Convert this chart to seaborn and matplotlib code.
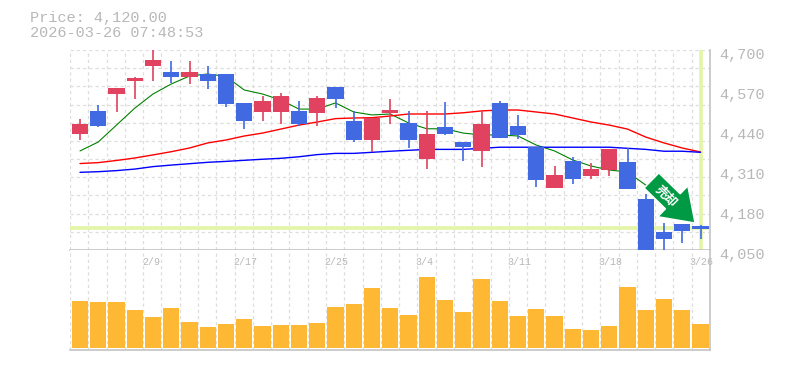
import matplotlib
matplotlib.use("Agg")
import matplotlib.pyplot as plt
import matplotlib.patches as mpatches
import matplotlib.transforms as mtrans
import numpy as np
import pandas as pd
import seaborn as sns

sns.set_theme(style="white")
plt.rcParams['font.family'] = ['Liberation Mono', 'Noto Sans CJK JP', 'DejaVu Sans']

# ---- data ----
opens = [4427, 4502, 4557, 4599, 4648, 4628.5, 4612, 4622, 4622, 4528, 4498.5, 4498.5, 4502, 4495, 4580, 4469, 4407.5,
         4495, 4463, 4346, 4450, 4401, 4372, 4528, 4453, 4385, 4251.5, 4339, 4290.5, 4310, 4336, 4216, 4109, 4134.5, 4128]
closes = [4459.5, 4453, 4576.5, 4610, 4667.5, 4612, 4628.5, 4599, 4524.5, 4469, 4534, 4550, 4459.5, 4544, 4541, 4407.5, 4479,
          4505, 4407.5, 4427, 4427, 4385, 4459.5, 4414, 4424, 4277.5, 4294, 4281, 4313, 4378, 4248, 4050, 4086, 4112, 4118]
highs = [4476, 4521, 4576.5, 4612, 4700, 4664, 4664, 4648, 4622, 4528, 4550, 4560, 4534, 4550, 4580, 4502, 4479,
         4541, 4502, 4502, 4531, 4401, 4502, 4534, 4489, 4385, 4323, 4352, 4333, 4378, 4381, 4232, 4138, 4134.5, 4131]
lows = [4407.5, 4450, 4498.5, 4541, 4599, 4593, 4589.5, 4573, 4515, 4443, 4469, 4459.5, 4453, 4453, 4511, 4401, 4368.5,
        4459.5, 4381, 4313, 4424, 4339, 4320, 4414, 4411, 4255, 4251.5, 4264.5, 4281, 4290.5, 4248, 4050, 4050, 4073, 4086]
ma_short = [4372, 4401, 4456, 4511, 4557, 4589.5, 4615.5, 4622, 4614, 4570, 4557, 4537.5, 4508, 4508, 4528, 4498.5, 4489,
            4492, 4463, 4444, 4444, 4430, 4424, 4424, 4420.5, 4391, 4372, 4342.5, 4323, 4310, 4303.5, 4261, 4229, 4196]
ma_mid = [4331, 4334, 4341, 4349, 4359, 4369.5, 4381.5, 4398, 4407.5, 4420.5, 4430, 4443, 4456, 4466, 4477, 4479, 4480,
          4485.5, 4492, 4492, 4492, 4496, 4502, 4505, 4505, 4498.5, 4492, 4479, 4466, 4456, 4443, 4417, 4398, 4381.5, 4368.5]
ma_long = [4302.5, 4304.5, 4308, 4313, 4321, 4326, 4330.5, 4335, 4338, 4341.5, 4345, 4348, 4353, 4360, 4364, 4364, 4367.5,
           4371, 4374, 4377, 4377, 4377, 4380.5, 4384, 4384, 4384, 4384, 4384, 4384, 4384, 4380.5, 4377, 4371, 4371, 4367.5]
volumes = [47, 46, 46, 38, 31, 40, 26, 21, 24, 29, 22, 23, 23, 25, 41, 44, 60, 40,
           33, 71, 48, 36, 69, 47, 32, 39, 32, 19, 18, 22, 61, 38, 49, 38, 24]
date_ticks = [4, 9, 14, 19, 24, 29, 34]
date_labels = ["2/9", "2/17", "2/25", "3/4", "3/11", "3/18", "3/26"]
price_ticks = [4050, 4180, 4310, 4440, 4570, 4700]
last_price = 4120
title_lines = ["Price: 4,120.00", "2026-03-26 07:48:53"]
badge_text = "売却"

UP, DOWN = "#e0425f", "#4169e1"
GRID, AXIS, TXT = "#dedede", "#c4c4c4", "#b8b8b8"
HILITE = "#e4f5a9"
W, H = 785, 370

fig = plt.figure(figsize=(W / 100, H / 100), dpi=100, facecolor="white")
L, R = 70 / W, 710 / W
ax = fig.add_axes([L, 1 - 250 / H, R - L, 200 / H])
axv = fig.add_axes([L, 1 - 350 / H, R - L, 100 / H])

n = len(opens)
centers = np.arange(n)
XLIM = (-0.548, 34.52)
df = pd.DataFrame({"x": centers, "open": opens, "close": closes, "high": highs, "low": lows,
                   "mid": ma_mid, "long": ma_long, "volume": volumes})
GRIDLS = (0, (2.6, 2.4))

for a in (ax, axv):
    a.set_facecolor("white")
    a.set_axisbelow(True)
    a.tick_params(length=0)
    for s in ("top", "left"):
        a.spines[s].set_visible(False)
    for s in ("bottom", "right"):
        a.spines[s].set_color(AXIS)
        a.spines[s].set_linewidth(1.2)

# price panel
ax.set_ylim(4050, 4700)
ax.set_yticks(np.linspace(4050, 4700, 12))
ax.grid(axis="y", color=GRID, lw=0.9, ls=GRIDLS)
ax.axhline(last_price, color=HILITE, lw=2.7, zorder=1.2)
ax.axvline(centers[-1], ymax=0.995, ymin=0.006, color=HILITE, lw=2.7, zorder=1.2)

sns.lineplot(x=centers[:len(ma_short)], y=ma_short, ax=ax, color="#008000", lw=0.8, zorder=2, errorbar=None)
sns.lineplot(data=df, x="x", y="mid", ax=ax, color="#ff0000", lw=1.0, zorder=2, errorbar=None)
sns.lineplot(data=df, x="x", y="long", ax=ax, color="#0000ff", lw=1.0, zorder=2, errorbar=None)
ax.set_xlabel(""); ax.set_ylabel("")

for x, o, c, h, l in zip(centers, opens, closes, highs, lows):
    col = UP if c >= o else DOWN
    ax.vlines(x, l, h, color=col, lw=1.2, zorder=3)
    ax.bar(x, abs(c - o), 0.88, bottom=min(o, c), color=col, lw=0, zorder=3)

ax.yaxis.remove_overlapping_locs = False
ax.set_yticks(price_ticks, minor=True)
ax.set_yticklabels([f"{p:,}" for p in price_ticks], minor=True)
ax.yaxis.tick_right()
ax.tick_params(axis="y", which="major", labelright=False, length=0)
ax.tick_params(axis="y", which="minor", length=0, labelsize=11, labelcolor=TXT, pad=7)
shift = mtrans.ScaledTranslation(0, -3 / 100, fig.dpi_scale_trans)
for t in ax.get_yticklabels(minor=True):
    t.set_transform(t.get_transform() + shift)

# sell arrow, sized in figure inches so its shape stays fixed
ax.add_patch(mpatches.FancyArrow(6.515, 1.895, 0.435, -0.425, width=0.21, head_width=0.43, head_length=0.31,
                                 length_includes_head=True, transform=fig.dpi_scale_trans,
                                 fc="#009944", ec="white", lw=1, zorder=5, clip_on=False))
ax.text(32.1, 4225, badge_text, rotation=-45, rotation_mode="anchor", ha="center", va="center",
        color="white", fontsize=9, fontweight="bold", family="Noto Sans CJK JP", zorder=6)

# volume panel
sns.barplot(data=df, x="x", y="volume", ax=axv, native_scale=True, width=0.88, color="#ffb833",
            saturation=1, lw=0, zorder=3)
axv.set_ylim(-2, 98)
axv.set_yticks([])
axv.set_xlabel(""); axv.set_ylabel("")

for a in (ax, axv):
    a.set_xlim(*XLIM)
    a.set_xticks(np.linspace(XLIM[0], XLIM[1], 36))
    a.set_xticklabels([])
    a.grid(axis="x", color=GRID, lw=0.9, ls=GRIDLS)

for x, lab in zip(date_ticks, date_labels):
    axv.text(x - 0.6, 1 - 12 / 100, lab, transform=axv.get_xaxis_transform(), ha="left", va="center",
             fontsize=7.2, color=TXT, zorder=4)

fig.text(30 / W, 1 - 18 / H, title_lines[0], fontsize=11, color=TXT, va="center", ha="left")
fig.text(30 / W, 1 - 33 / H, title_lines[1], fontsize=11, color=TXT, va="center", ha="left")

fig.savefig("out.png", dpi=100, facecolor="white")
